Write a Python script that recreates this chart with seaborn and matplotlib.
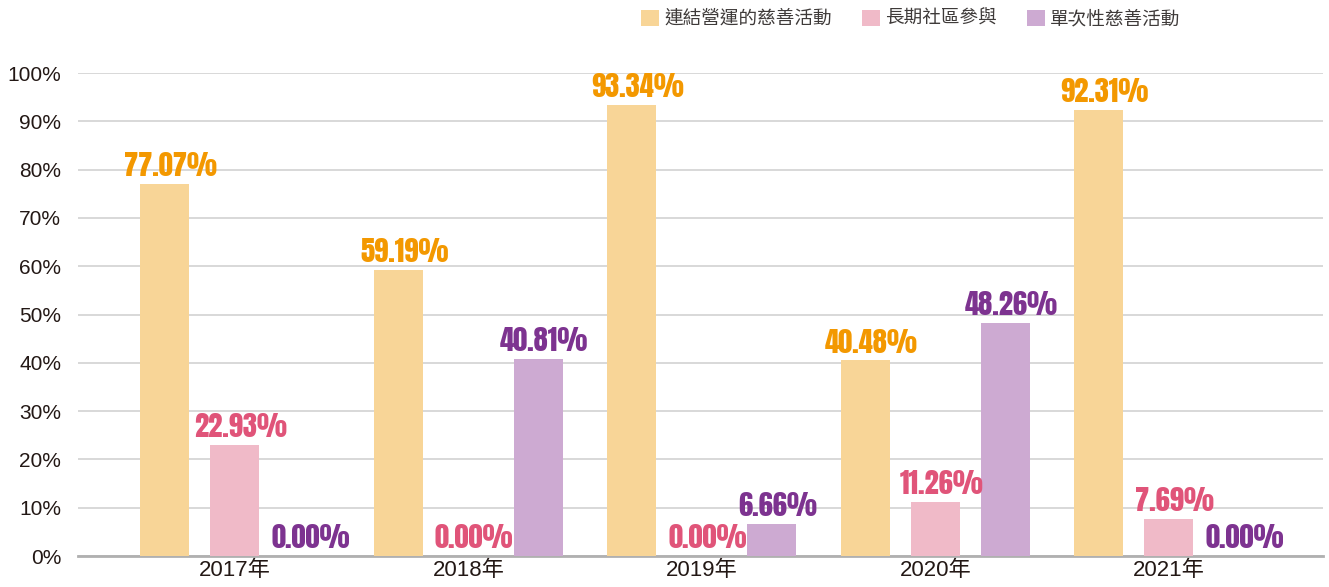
import matplotlib
matplotlib.use("Agg")
import matplotlib.pyplot as plt
import seaborn as sns
import pandas as pd
from matplotlib.patches import Patch

years = ["2017年", "2018年", "2019年", "2020年", "2021年"]
series_names = ["連結營運的慈善活動", "長期社區參與", "單次性慈善活動"]
operations = [77.07, 59.19, 93.34, 40.48, 92.31]
community = [22.93, 0.00, 0.00, 11.26, 7.69]
one_time = [0.00, 40.81, 6.66, 48.26, 0.00]
y_ticks = [0, 10, 20, 30, 40, 50, 60, 70, 80, 90, 100]

bar_colors = ["#F8D597", "#F0BAC8", "#CDAAD2"]
label_colors = ["#F39800", "#E05479", "#7D3390"]

rows = []
for name, vals in zip(series_names, [operations, community, one_time]):
    for y, v in zip(years, vals):
        rows.append({"year": y, "series": name, "value": v})
df = pd.DataFrame(rows)

sns.set_theme(style="white")
plt.rcParams["font.family"] = ["Liberation Sans", "Noto Sans CJK TC", "DejaVu Sans"]

fig = plt.figure(figsize=(13.29, 5.87), dpi=100)
ax = fig.add_axes([0.0587, 0.0528, 0.9368, 0.8228])

sns.barplot(data=df, x="year", y="value", hue="series", order=years,
            hue_order=series_names, palette=bar_colors, width=0.9, gap=0.3,
            saturation=1, linewidth=0, legend=False, ax=ax, zorder=3)

ax.set_ylim(0, 100)
ax.set_xlim(-0.672, 4.66)
ax.set_yticks(y_ticks)
ax.set_yticklabels([f"{t}%" for t in y_ticks])
ax.grid(axis="y", color="#d6d6d6", linewidth=1.3, zorder=0)
ax.set_axisbelow(True)
for s in ["left", "right", "top"]:
    ax.spines[s].set_visible(False)
ax.spines["bottom"].set_color("#b0b0b0")
ax.spines["bottom"].set_linewidth(2)
ax.set_xlabel("")
ax.set_ylabel("")
ax.tick_params(axis="y", length=0, pad=12, labelsize=15, labelcolor="#231815")
ax.tick_params(axis="x", length=0, pad=3, labelsize=16, labelcolor="#231815")

# value labels above each bar, coloured per series
label_font = ["Anton", "Fira Sans Extra Condensed", "DejaVu Sans"]
for container, col in zip(ax.containers, label_colors):
    for bar in container:
        h = bar.get_height()
        ax.text(bar.get_x() + bar.get_width() / 2 + 0.025, h + 1.0, f"{h:.2f}%",
                ha="center", va="bottom", color=col, fontsize=20.5,
                family=label_font, clip_on=False, zorder=5)

handles = [Patch(facecolor=c, edgecolor="none") for c in bar_colors]
fig.legend(handles, series_names, loc="center", bbox_to_anchor=(0.6855, 0.968),
           ncol=3, frameon=False, handlelength=0.95, handleheight=0.95,
           handletextpad=0.3, columnspacing=1.6,
           prop={"family": ["Noto Sans CJK TC", "DejaVu Sans"], "size": 13.4},
           labelcolor="#3e3a39")

fig.savefig("out.png", dpi=100)
